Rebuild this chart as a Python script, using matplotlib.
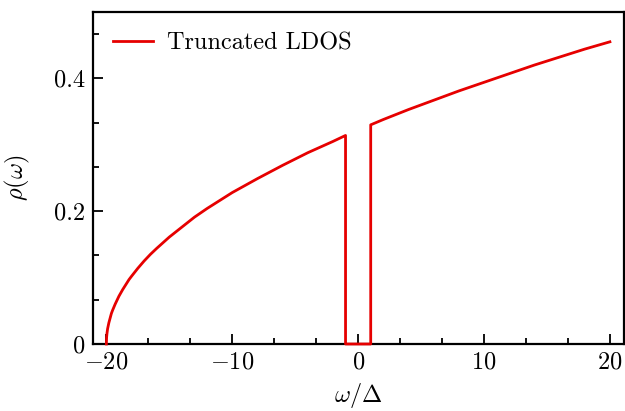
import matplotlib
matplotlib.use('Agg')
import matplotlib.pyplot as plt
from matplotlib.ticker import AutoMinorLocator

plt.rcParams['font.family'] = 'serif'
plt.rcParams['font.serif'] = ['cmr10', 'DejaVu Serif']
plt.rcParams['mathtext.fontset'] = 'cm'
plt.rcParams['axes.formatter.use_mathtext'] = True
plt.rcParams['font.size'] = 17.5

# LDOS (omega / Delta, rho)
omega = [-20, -19.98, -19.95, -19.9, -19.8, -19.7, -19.6, -19.5, -19.3, -19, -18.7, -18.5,
         -18.2, -18, -17.5, -17, -16.5, -16, -15, -14, -13, -12, -11, -10, -8, -6, -4, -2,
         -1, -1, 1, 1, 2, 4, 6, 8, 10, 12, 14, 16, 18, 20]
rho = [0.0, 0.010, 0.016, 0.023, 0.032, 0.039, 0.046, 0.051, 0.060, 0.072, 0.082, 0.088,
       0.097, 0.102, 0.114, 0.125, 0.135, 0.144, 0.161, 0.176, 0.191, 0.204, 0.216, 0.228,
       0.249, 0.269, 0.288, 0.305, 0.314, 0.0, 0.0, 0.330, 0.338, 0.353, 0.367, 0.381,
       0.394, 0.407, 0.420, 0.432, 0.444, 0.455]

fig = plt.figure(figsize=(6.25, 4.11), dpi=100)
ax = fig.add_axes([0.148, 0.163, 0.85, 0.808])
ax.plot(omega, rho, color='#e60000', lw=2.0, label='Truncated LDOS',
        clip_on=False, zorder=5)

ax.set_xlim(-21.1, 21.1)
ax.set_ylim(0, 0.5)
ax.set_xticks([-20, -10, 0, 10, 20])
ax.set_yticks([0, 0.2, 0.4])
ax.set_yticklabels(['0', '0.2', '0.4'])
ax.xaxis.set_minor_locator(AutoMinorLocator(3))
ax.yaxis.set_minor_locator(AutoMinorLocator(3))
ax.tick_params(which='both', direction='in', width=1.3, pad=5)
ax.tick_params(which='major', length=7)
ax.tick_params(which='minor', length=4)
for s in ax.spines.values():
    s.set_linewidth(1.6)

ax.set_xlabel(r'$\omega/\Delta$', labelpad=6)
ax.set_ylabel(r'$\rho(\omega)$', labelpad=16)
ax.legend(loc='upper left', frameon=False, handlelength=1.65,
          borderaxespad=0.45, handletextpad=0.55)

fig.savefig('out.png', dpi=100)
